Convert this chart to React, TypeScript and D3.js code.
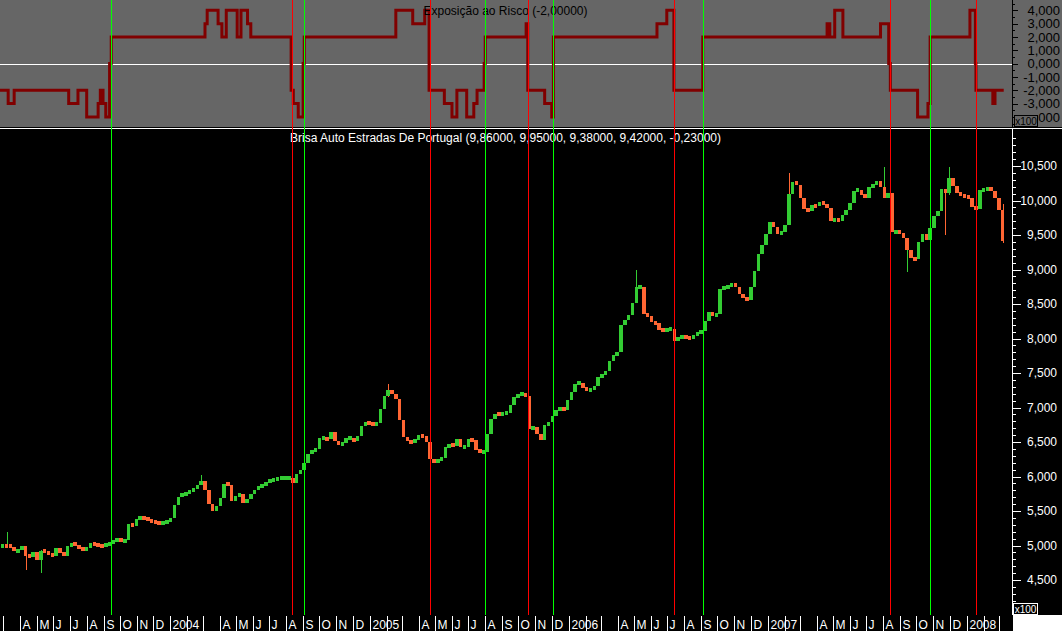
import React from "react";
import * as d3 from "d3";

// weekly closes (x100), one value per Friday starting at firstWeek
const firstWeek = "2003-02-28";
const close2003 = [5000, 4990, 4985, 4915, 4930, 4990, 4850, 4835, 4910, 4790, 4920, 4910, 4880, 4850, 4970, 4890, 4850, 4990, 5030, 5005, 4965, 4945, 4960, 5030, 5015, 5005, 4985, 5020, 5035, 5060, 5090, 5060, 5080, 5310, 5280, 5380, 5410, 5400, 5370, 5350, 5330, 5325, 5332, 5340];
const close2004 = [5400, 5580, 5705, 5750, 5757, 5780, 5835, 5870, 5930, 5800, 5600, 5500, 5575, 5690, 5890, 5880, 5650, 5720, 5745, 5615, 5670, 5740, 5800, 5855, 5860, 5915, 5950, 5952, 5972, 5974, 5984, 5985, 5905, 6040, 6095, 6200, 6330, 6370, 6400, 6560, 6560, 6540, 6650, 6510, 6450, 6490, 6554, 6554, 6515, 6590, 6730, 6785, 6765];
const close2005 = [6748, 6770, 6980, 7160, 7250, 7190, 7120, 6820, 6570, 6515, 6490, 6530, 6600, 6580, 6500, 6250, 6210, 6240, 6262, 6430, 6460, 6440, 6550, 6430, 6430, 6540, 6530, 6390, 6350, 6350, 6610, 6830, 6906, 6895, 6914, 6916, 7040, 7150, 7185, 7205, 7170, 6690, 6720, 6620, 6530, 6740, 6790, 6880, 6970, 6995, 6970, 7115];
const close2006 = [7220, 7340, 7360, 7280, 7255, 7260, 7310, 7447, 7465, 7530, 7670, 7765, 7800, 8190, 8262, 8340, 8520, 8750, 8751, 8360, 8320, 8235, 8221, 8130, 8110, 8130, 8140, 7960, 8027, 8027, 8018, 8005, 8040, 8078, 8115, 8260, 8380, 8320, 8360, 8720, 8751, 8751, 8800, 8740, 8640, 8580, 8560, 8740, 8980, 9230, 9360, 9520];
const close2007 = [9690, 9610, 9520, 9540, 9645, 10100, 10270, 10230, 10030, 9870, 9850, 9930, 9915, 9970, 9955, 9887, 9705, 9730, 9700, 9795, 9860, 9970, 10140, 10150, 10085, 10040, 10200, 10225, 10280, 10200, 10030, 10104, 9540, 9560, 9536, 9450, 9280, 9160, 9150, 9400, 9510, 9430, 9600, 9780, 9850, 10170, 10104, 10330, 10210, 10110, 10070, 10065];
const close2008 = [10040, 9910, 9870, 10152, 10155, 10190, 10140, 10030, 9860, 9420];

// the larger daily spikes (week, high, low)
const wickWeeks = ["2003-03-07", "2003-04-11", "2003-05-09", "2004-02-27", "2005-02-04", "2005-04-22", "2006-05-05", "2007-02-09", "2007-08-03", "2007-09-14", "2007-11-23", "2007-11-30", "2008-01-18", "2008-03-07"];
const wickHigh = [5200, 4990, 4930, 6020, 7340, 6450, 9000, 10400, 10490, 9330, 10170, 10480, 10150, 9950];
const wickLow = [4960, 4650, 4600, 5880, 7150, 6120, 8750, 10050, 10030, 8970, 9500, 10080, 9380, 9380];

// risk exposure: date from which a level holds
const riskDates = ["2003-02-23", "2003-03-10", "2003-03-21", "2003-06-29", "2003-07-16", "2003-08-01", "2003-08-22", "2003-08-26", "2003-08-31", "2003-09-05", "2003-09-12", "2003-09-15",
  "2004-03-05", "2004-03-09", "2004-03-29", "2004-04-05", "2004-04-13", "2004-05-03", "2004-05-10", "2004-05-22", "2004-05-28", "2004-08-10", "2004-08-14", "2004-08-23", "2004-09-01", "2004-09-03",
  "2005-02-18", "2005-03-21", "2005-04-12", "2005-04-20", "2005-05-18", "2005-06-01", "2005-06-10", "2005-06-28", "2005-07-11", "2005-07-17", "2005-07-30", "2005-08-01", "2005-10-15", "2005-10-18", "2005-11-18", "2005-12-01", "2005-12-04",
  "2006-06-12", "2006-06-30", "2006-07-13", "2006-09-04",
  "2007-04-20", "2007-04-25", "2007-05-04", "2007-05-19", "2007-07-27", "2007-08-11", "2007-08-14", "2007-10-03", "2007-10-22", "2007-10-26",
  "2008-01-07", "2008-01-17", "2008-01-18", "2008-02-18", "2008-02-22"];
const riskLevels = [-2, -3, -2, -3, -2, -4, -3, -2, -3, -4, 0, 2,
  3, 4, 3, 2, 4, 2, 4, 3, 2, -2, -3, -4, 0, 2,
  4, 3, 4, -2, -3, -4, -2, -4, -3, -2, 0, 2, 3, -2, -3, -4, 2,
  3, 4, -2, 2,
  3, 2, 4, 2, 3, 0, -2, -4, -3, 2,
  4, 0, -2, -3, -2];
const riskEnd = "2008-03-09";

const entrySignals = ["2003-09-15", "2004-09-03", "2005-08-01", "2005-12-04", "2006-09-04", "2007-10-26"];
const exitSignals = ["2004-08-11", "2005-04-22", "2005-10-19", "2006-07-14", "2007-08-14", "2008-01-18"];

const monthLetters = ["", "", "", "A", "M", "J", "J", "A", "S", "O", "N", "D"];
const priceTicks = [4500, 5000, 5500, 6000, 6500, 7000, 7500, 8000, 8500, 9000, 9500, 10000, 10500];
const riskTicks = [4, 3, 2, 1, 0, -1, -2, -3, -4];

const title = "Brisa Auto Estradas De Portugal (9,86000, 9,95000, 9,38000, 9,42000, -0,23000)";
const riskTitle = "Exposição ao Risco (-2,00000)";

const font = "'Liberation Sans', Arial, sans-serif";
const upColor = "#33cc33";
const downColor = "#ff6633";

export default function App() {
  const W = 1062;
  const H = 631;
  const plotRight = 1013;
  const topBottom = 127;
  const mainTop = 129;
  const mainBottom = 615;

  const parse = d3.timeParse("%Y-%m-%d");
  const x = d3.scaleTime().domain([new Date(2003, 1, 23), new Date(2008, 2, 26)]).range([0, plotRight]);
  const y = d3.scaleLinear().domain([4500, 10500]).range([580, 166]);
  const yr = d3.scaleLinear().domain([-4, 4]).range([116.9, 10.3]);
  const px = (d: Date) => Math.round(x(d)) + 0.5;

  const closes = [...close2003, ...close2004, ...close2005, ...close2006, ...close2007, ...close2008];
  const start = parse(firstWeek) as Date;
  const bars = closes.map((c, i) => ({
    date: d3.timeDay.offset(start, 7 * i),
    open: i ? closes[i - 1] : c,
    close: c,
  }));
  const barW = x(d3.timeDay.offset(start, 7)) - x(start) - 0.3;

  const riskPts: [number, number][] = riskDates.map((d, i) => [x(parse(d) as Date), yr(riskLevels[i])]);
  riskPts.push([x(parse(riskEnd) as Date), yr(riskLevels[riskLevels.length - 1])]);
  const riskLine = d3.line().curve(d3.curveStepAfter)(riskPts) || "";

  const fmtRisk = d3.formatLocale({ decimal: ",", thousands: ".", grouping: [3], currency: ["", ""], minus: "-" }).format(".3f");
  const fmtPrice = d3.format(",");

  const priceMinor = d3.range(3900, 11000, 100).filter((v) => y(v) > mainTop + 1 && y(v) < mainBottom - 1);
  const riskMinor = d3.range(-9, 10).map((k) => k / 2).filter((v) => yr(v) > 1 && yr(v) < topBottom - 1);
  const months = d3.timeMonth.range(new Date(2003, 2, 1), new Date(2008, 3, 1));

  const signals = [
    ...entrySignals.map((d) => ({ d: parse(d) as Date, c: "#00ff00" })),
    ...exitSignals.map((d) => ({ d: parse(d) as Date, c: "#ff0000" })),
  ];

  return (
    <svg width={W} height={H} style={{ position: "absolute", left: 0, top: 0, display: "block" }} fontFamily={font}>
      <defs>
        {/* the x100 box hides the left part of the lowest risk label */}
        <clipPath id="riskLabelClip">
          <rect x={1038} y={0} width={W - 1038} height={topBottom} />
        </clipPath>
      </defs>
      <rect x={0} y={0} width={W} height={H} fill="#000" />
      {/* risk panel */}
      <rect x={0} y={0} width={W} height={topBottom} fill="#666666" />
      <line x1={0} x2={W} y1={128.5} y2={128.5} stroke="#fff" />
      <line x1={0} x2={plotRight} y1={Math.round(yr(0)) + 0.5} y2={Math.round(yr(0)) + 0.5} stroke="#fff" />
      <path d={riskLine} fill="none" stroke="#800000" strokeWidth={3} strokeLinejoin="miter" />
      <text x={505.5} y={15} textAnchor="middle" fontSize={12} fill="#000">{riskTitle}</text>
      <line x1={plotRight - 0.5} x2={plotRight - 0.5} y1={0} y2={topBottom} stroke="#000" />
      {riskMinor.map((v) => (
        <line key={v} x1={plotRight} x2={plotRight + (Number.isInteger(v) ? 5 : 2)} y1={Math.round(yr(v)) + 0.5} y2={Math.round(yr(v)) + 0.5} stroke="#000" />
      ))}
      {riskTicks.map((v) => (
        <text key={v} x={1060} y={yr(v)} dy="0.36em" textAnchor="end" fontSize={13} fill="#000"
          clipPath={v === -4 ? "url(#riskLabelClip)" : undefined}>{fmtRisk(v)}</text>
      ))}
      <rect x={1014.5} y={115.5} width={23} height={11} fill="#666666" stroke="#000" />
      <text x={1026} y={124.5} textAnchor="middle" fontSize={10} fill="#000">x100</text>

      {/* price panel */}
      <g shapeRendering="crispEdges">
        {wickWeeks.map((d, i) => {
          const xd = px(parse(d) as Date);
          return <line key={d} x1={xd} x2={xd} y1={y(wickHigh[i])} y2={y(wickLow[i])} stroke={i % 3 === 1 ? downColor : upColor} />;
        })}
        {bars.map((b, i) => {
          const up = b.close >= b.open;
          const top = y(Math.max(b.open, b.close));
          const h = Math.abs(y(b.open) - y(b.close));
          const hh = Math.max(4, h);
          return <rect key={i} x={x(b.date) - barW / 2} y={top - (hh - h) / 2} width={barW} height={hh} fill={up ? upColor : downColor} />;
        })}
      </g>
      <text x={505.5} y={142} textAnchor="middle" fontSize={12} fill="#fff">{title}</text>
      <line x1={plotRight - 0.5} x2={plotRight - 0.5} y1={mainTop} y2={mainBottom} stroke="#fff" />
      {priceMinor.map((v) => (
        <line key={v} x1={plotRight} x2={plotRight + (v % 500 === 0 ? 8 : 3)} y1={Math.round(y(v)) + 0.5} y2={Math.round(y(v)) + 0.5} stroke="#fff" />
      ))}
      {priceTicks.map((v) => (
        <text key={v} x={1057} y={y(v)} dy="0.36em" textAnchor="end" fontSize={12} fill="#fff">{fmtPrice(v)}</text>
      ))}

      {/* signal lines across both panels */}
      {signals.map((s, i) => (
        <line key={i} x1={px(s.d)} x2={px(s.d)} y1={0} y2={mainBottom} stroke={s.c} />
      ))}

      {/* time axis */}
      {months.map((m, i) => {
        const xm = px(m);
        const label = m.getMonth() === 0 ? String(m.getFullYear()) : monthLetters[m.getMonth()];
        return (
          <g key={i}>
            <line x1={xm} x2={xm} y1={616} y2={H} stroke="#fff" />
            {label && <text x={xm + 2} y={628.5} fontSize={12} fill="#fff">{label}</text>}
          </g>
        );
      })}
      <rect x={plotRight} y={mainBottom} width={W - plotRight} height={H - mainBottom} fill="#fff" />
      <rect x={1013.5} y={603.5} width={24} height={11} fill="#000" stroke="#fff" />
      <text x={1025.5} y={612.5} textAnchor="middle" fontSize={10} fill="#fff">x100</text>
    </svg>
  );
}
